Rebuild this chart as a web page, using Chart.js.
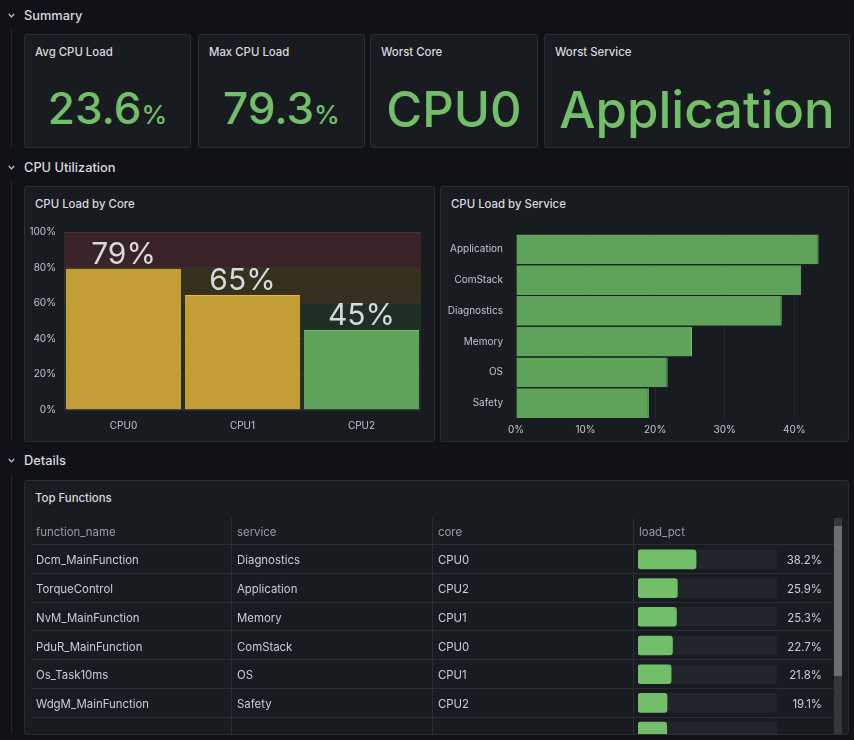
<!DOCTYPE html>
<html>
<head>
<meta charset="utf-8">
<script src="https://cdn.jsdelivr.net/npm/chart.js@4/dist/chart.umd.min.js"></script>
<style>
  html, body { margin:0; padding:0; background:#111217; width:854px; height:740px; overflow:hidden; font-family:Inter, "Noto Sans", sans-serif; color:#ccccdc; }
  .abs { position:absolute; }
  .row-title { position:absolute; left:24px; font-size:12.8px; font-weight:500; line-height:16px; color:#d8d9de; }
  .chev { position:absolute; left:8px; width:7px; height:5px; }
  .chev svg { display:block; }
  .guide { position:absolute; left:11px; width:1px; background:#25272c; }
  .panel { position:absolute; background:#181b1f; border:1px solid #2a2d33; border-radius:3px; box-sizing:border-box; }
  .ptitle { position:absolute; left:10px; top:10px; font-size:11.4px; font-weight:500; color:#d8d9de; white-space:nowrap; }
  .stat { position:absolute; left:0; right:0; text-align:center; color:#73bf69; font-weight:500; white-space:nowrap; line-height:1; }
  .stat small { font-size:26px; font-weight:500; }
  .cell { position:absolute; font-size:11.4px; line-height:14px; white-space:nowrap; color:#ccccdc; }
  .hdr { color:#9c9ca6; }
  .hline { position:absolute; height:1px; background:#2a2d33; }
  .vline { position:absolute; width:1px; background:#2a2d33; }
</style>
</head>
<body>
<div id="page" class="abs" style="left:0;top:0;width:854px;height:740px;"></div>

<script>
'use strict';

// ---- data ----
const STAT_TITLES = ['Avg CPU Load', 'Max CPU Load', 'Worst Core', 'Worst Service'];
const STAT_VALUES = ['23.6', '79.3', 'CPU0', 'Application'];
const STAT_UNITS  = ['%', '%', '', ''];

const CORES     = ['CPU0', 'CPU1', 'CPU2'];
const CORE_LOAD = [79.3, 64.6, 44.9];
const THRESHOLDS = [60, 80];            // green < 60 <= yellow < 80 <= red

const SERVICES     = ['Application', 'ComStack', 'Diagnostics', 'Memory', 'OS', 'Safety'];
const SERVICE_LOAD = [43.5, 41.0, 38.2, 25.3, 21.8, 19.1];

const FUNC_NAMES   = ['Dcm_MainFunction', 'TorqueControl', 'NvM_MainFunction', 'PduR_MainFunction', 'Os_Task10ms', 'WdgM_MainFunction', ''];
const FUNC_SERVICE = ['Diagnostics', 'Application', 'Memory', 'ComStack', 'OS', 'Safety', ''];
const FUNC_CORE    = ['CPU0', 'CPU2', 'CPU1', 'CPU0', 'CPU1', 'CPU2', ''];
const FUNC_LOAD    = [38.2, 25.9, 25.3, 22.7, 21.8, 19.1, 18.9];
const TABLE_COLS   = ['function_name', 'service', 'core', 'load_pct'];
const GAUGE_MAX    = 91.5;

// ---- colours ----
const GREEN = '#73bf69', GREEN_FILL = '#5fa35a';
const YELLOW = '#eab839', YELLOW_FILL = '#c39e36';
const BAND = ['#212e26', '#36301f', '#392228'];
const GRID = 'rgba(204,204,220,0.08)';
const TICK = { color:'#c4c4cf', font:{ family:'Inter', size:10 } };

const page = document.getElementById('page');
function el(tag, cls, style, html) {
    const e = document.createElement(tag);
    if (cls) e.className = cls;
    if (style) e.style.cssText = style;
    if (html !== undefined) e.innerHTML = html;
    return e;
}
function rowHeader(text, y, guideTop, guideBottom) {
    page.appendChild(el('div', 'chev', 'top:' + (y - 2) + 'px;',
        '<svg width="7" height="5" viewBox="0 0 7 5"><polyline points="0.8,1 3.5,3.8 6.2,1" fill="none" stroke="#ccccdc" stroke-width="1.2"/></svg>'));
    page.appendChild(el('div', 'row-title', 'top:' + (y - 7) + 'px;', text));
    page.appendChild(el('div', 'guide', 'top:' + guideTop + 'px;height:' + (guideBottom - guideTop) + 'px;'));
}
function panel(x, y, w, h, title) {
    const p = el('div', 'panel', 'left:' + x + 'px;top:' + y + 'px;width:' + w + 'px;height:' + h + 'px;');
    if (title) p.appendChild(el('div', 'ptitle', '', title));
    page.appendChild(p);
    return p;
}

// ---- rows ----
rowHeader('Summary', 15, 28, 148);
rowHeader('CPU Utilization', 167, 180, 441);
rowHeader('Details', 460, 474, 734);

// ---- stat panels ----
const statBoxes = [[24, 167], [198, 167], [370, 168], [544, 306]];
const statSize  = [44, 44, 49, 51];
const statTop   = [51, 51, 50, 49];
statBoxes.forEach((b, i) => {
    const p = panel(b[0], 34, b[1], 114, STAT_TITLES[i]);
    const unit = STAT_UNITS[i] ? '<small>' + STAT_UNITS[i] + '</small>' : '';
    p.appendChild(el('div', 'stat', 'top:' + statTop[i] + 'px;font-size:' + statSize[i] + 'px;', STAT_VALUES[i] + unit));
});

// ---- chart panels ----
panel(24, 186, 411, 256, 'CPU Load by Core');
panel(440, 186, 409, 256, 'CPU Load by Service');

function canvasBox(x, y, w, h, parent) {
    const d = el('div', 'abs', 'left:' + x + 'px;top:' + y + 'px;width:' + w + 'px;height:' + h + 'px;');
    const c = document.createElement('canvas');
    d.appendChild(c);
    (parent || page).appendChild(d);
    return c;
}

const coreColor = v => v >= THRESHOLDS[1] ? 'red' : v >= THRESHOLDS[0] ? 'yellow' : 'green';
const FILL = { green:GREEN_FILL, yellow:YELLOW_FILL, red:'#c4404d' };
const EDGE = { green:GREEN, yellow:YELLOW, red:'#f2495c' };

// threshold regions behind the grid
const bandPlugin = {
    id:'bands',
    beforeDraw(chart) {
        const { ctx, chartArea:a, scales:{ y } } = chart;
        const stops = [0, ...THRESHOLDS, 100];
        ctx.save();
        for (let i = 0; i < stops.length - 1; i++) {
            const top = y.getPixelForValue(stops[i + 1]), bot = y.getPixelForValue(stops[i]);
            ctx.fillStyle = BAND[i];
            ctx.fillRect(a.left, top, a.right - a.left, bot - top);
        }
        ctx.restore();
    }
};
// value text above each bar
const valuePlugin = {
    id:'values',
    afterDatasetsDraw(chart) {
        const { ctx } = chart;
        const meta = chart.getDatasetMeta(0);
        ctx.save();
        ctx.font = '400 30px Inter';
        ctx.fillStyle = '#d8d9de';
        ctx.textAlign = 'center';
        ctx.textBaseline = 'alphabetic';
        meta.data.forEach((bar, i) => {
            ctx.fillText(Math.round(CORE_LOAD[i]) + '%', bar.x, bar.y - 5);
        });
        ctx.restore();
    }
};

new Chart(canvasBox(24, 215, 410, 226), {
    type:'bar',
    data:{ labels:CORES, datasets:[{
        data:CORE_LOAD,
        backgroundColor:CORE_LOAD.map(v => FILL[coreColor(v)]),
        borderColor:CORE_LOAD.map(v => EDGE[coreColor(v)]),
        borderWidth:{ top:1, left:0, right:0, bottom:0 },
        borderSkipped:'bottom',
        categoryPercentage:1, barPercentage:0.968
    }]},
    options:{
        responsive:true, maintainAspectRatio:false, animation:false,
        layout:{ padding:{ top:17, right:13, left:0, bottom:0 } },
        plugins:{ legend:{ display:false }, tooltip:{ enabled:false } },
        scales:{
            x:{ grid:{ display:false, drawTicks:false }, border:{ display:false },
                ticks:{ ...TICK, padding:10 }, afterFit:s => { s.height = 31; } },
            y:{ min:0, max:100, grid:{ color:GRID, drawTicks:false }, border:{ display:false },
                ticks:{ ...TICK, stepSize:20, padding:8, callback:v => v + '%' }, afterFit:s => { s.width = 40; } }
        }
    },
    plugins:[bandPlugin, valuePlugin]
});

new Chart(canvasBox(440, 215, 410, 226), {
    type:'bar',
    data:{ labels:SERVICES, datasets:[{
        data:SERVICE_LOAD,
        backgroundColor:GREEN_FILL, borderColor:GREEN,
        borderWidth:{ top:0, left:0, right:1, bottom:0 }, borderSkipped:'left',
        categoryPercentage:1, barPercentage:0.965
    }]},
    options:{
        indexAxis:'y', responsive:true, maintainAspectRatio:false, animation:false,
        layout:{ padding:{ top:17, right:14, left:0, bottom:0 } },
        plugins:{ legend:{ display:false }, tooltip:{ enabled:false } },
        scales:{
            x:{ min:0, max:46, grid:{ color:GRID, drawTicks:false }, border:{ display:false },
                ticks:{ ...TICK, stepSize:10, includeBounds:false, padding:5, callback:v => v + '%' },
                afterFit:s => { s.height = 22.5; } },
            y:{ grid:{ display:false, drawTicks:false }, border:{ display:false },
                ticks:{ ...TICK, padding:13 }, afterFit:s => { s.width = 76; } }
        }
    }
});

// ---- table panel ----
panel(24, 480, 825, 255, 'Top Functions');
const ROW_H = 28.75, BODY_TOP = 545, COL_X = [36, 237, 438, 639];
const body = el('div', 'abs', 'left:0;top:0;width:854px;height:734px;overflow:hidden;');
page.appendChild(body);

TABLE_COLS.forEach((c, i) => body.appendChild(el('div', 'cell hdr', 'left:' + COL_X[i] + 'px;top:525px;', c)));
body.appendChild(el('div', 'hline', 'left:31px;width:803px;top:544px;'));
[231, 432, 633].forEach(x => body.appendChild(el('div', 'vline', 'left:' + x + 'px;top:518px;height:216px;')));

FUNC_LOAD.forEach((v, i) => {
    const top = BODY_TOP + i * ROW_H;
    const cy = top + ROW_H / 2 - 6;
    body.appendChild(el('div', 'cell', 'left:36px;top:' + cy + 'px;', FUNC_NAMES[i]));
    body.appendChild(el('div', 'cell', 'left:237px;top:' + cy + 'px;', FUNC_SERVICE[i]));
    body.appendChild(el('div', 'cell', 'left:438px;top:' + cy + 'px;', FUNC_CORE[i]));
    if (FUNC_NAMES[i]) body.appendChild(el('div', 'cell', 'right:' + (854 - 822) + 'px;top:' + cy + 'px;', v.toFixed(1) + '%'));
    body.appendChild(el('div', 'hline', 'left:31px;width:803px;top:' + Math.round(top + ROW_H - 1) + 'px;'));
});

// gauge column through a chart.js scale
new Chart(canvasBox(638, BODY_TOP, 139, Math.round(ROW_H * FUNC_LOAD.length), body), {
    type:'bar',
    data:{ labels:FUNC_LOAD.map((_, i) => i), datasets:[
        { data:FUNC_LOAD, backgroundColor:GREEN, borderRadius:3, borderSkipped:false, barThickness:19, order:1 },
        { data:FUNC_LOAD.map(() => GAUGE_MAX), backgroundColor:'#22252b', borderRadius:3, borderSkipped:false, barThickness:19, order:2 }
    ]},
    options:{
        indexAxis:'y', responsive:true, maintainAspectRatio:false, animation:false,
        layout:{ padding:0 },
        datasets:{ bar:{ grouped:false } },
        plugins:{ legend:{ display:false }, tooltip:{ enabled:false } },
        scales:{ x:{ display:false, min:0, max:GAUGE_MAX }, y:{ display:false } }
    }
});

// scrollbar
body.appendChild(el('div', 'abs', 'left:834px;top:518px;width:8px;height:216px;background:#34363b;'));
body.appendChild(el('div', 'abs', 'left:834px;top:526px;width:8px;height:150px;background:#6c6e73;'));
</script>
</body>
</html>
